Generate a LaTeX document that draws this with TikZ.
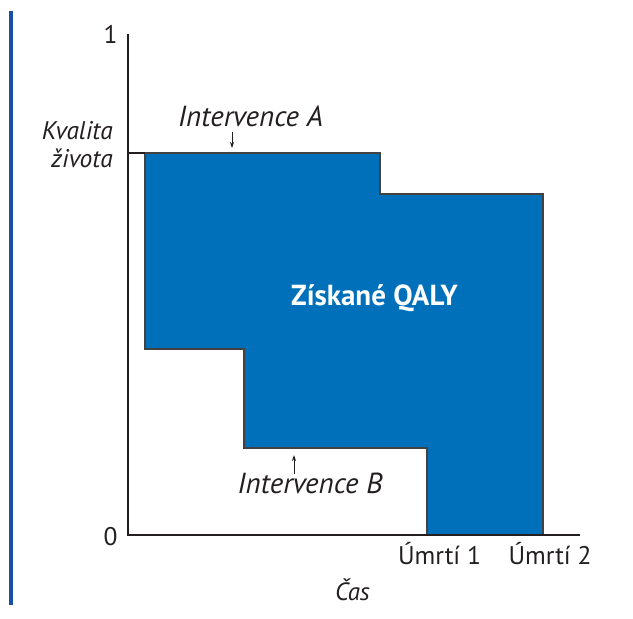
\documentclass[tikz,border=0pt]{standalone}
\usepackage{fontspec}
\setmainfont{PT Sans}
\usetikzlibrary{arrows.meta}
\definecolor{qalyblue}{HTML}{0070BA}
\definecolor{barblue}{HTML}{1A4FA6}
\definecolor{ink}{HTML}{231F20}
\tikzset{
  axisline/.style={draw=ink, line width=1.4pt},
  region/.style={fill=qalyblue, draw=ink!85, line width=1.3pt, line join=miter},
  lbl/.style={text=ink, inner sep=0pt, font=\fontsize{25.5}{29}\selectfont},
  ilbl/.style={text=ink, inner sep=0pt, font=\fontsize{29}{33}\selectfont\itshape},
  pointer/.style={draw=ink, line width=0.9pt, -{Stealth[length=6pt,width=4pt]}},
}
\begin{document}
\begin{tikzpicture}[x=1pt,y=-1pt]
\useasboundingbox (0,0) rectangle (633,619);
% left bar
\fill[barblue] (9,11) rectangle (13,605);
% axes
\coordinate (ytop) at (128,34);
\coordinate (orig) at (128,535);
\coordinate (xend) at (580,535);
% region
\filldraw[region] (145,153) -- (380,153) -- (380,194) -- (543,194) -- (543,535)
  -- (427,535) -- (427,448) -- (244,448) -- (244,349) -- (145,349) -- cycle;
\draw[axisline] (128,153) -- (145,153);
\draw[axisline] (ytop) -- (orig) -- (xend);
% labels
\node[lbl, anchor=base] (one) at (110.5,43) {1};
\node[lbl, anchor=base] (zero) at (110.5,545) {0};
\node[ilbl, font=\fontsize{25.5}{29}\selectfont\itshape, anchor=base east] (kval) at (113,139) {Kvalita};
\node[ilbl, font=\fontsize{25.5}{29}\selectfont\itshape, anchor=base east] (ziv) at (113,167) {života};
\node[ilbl, anchor=base] (ia) at (250.5,126) {Intervence A};
\node[ilbl, anchor=base] (ib) at (310,493) {Intervence B};
\node[lbl, anchor=base] (u1) at (439.5,564) {Úmrtí 1};
\node[lbl, anchor=base] (u2) at (550,564) {Úmrtí 2};
\node[ilbl, font=\fontsize{25}{29}\selectfont\itshape, anchor=base] (cas) at (352.5,600) {Čas};
\node[inner sep=0pt, text=white, font=\fontsize{29}{33}\selectfont\bfseries, anchor=base] (q) at (374.5,305) {Získané QALY};
% pointers
\coordinate (atail) at (232,132);
\coordinate (ahead) at (232,148);
\coordinate (btail) at (294,474);
\coordinate (bhead) at (294,455);
\draw[pointer] (atail) -- (ahead);
\draw[pointer] (btail) -- (bhead);
\end{tikzpicture}
\end{document}
